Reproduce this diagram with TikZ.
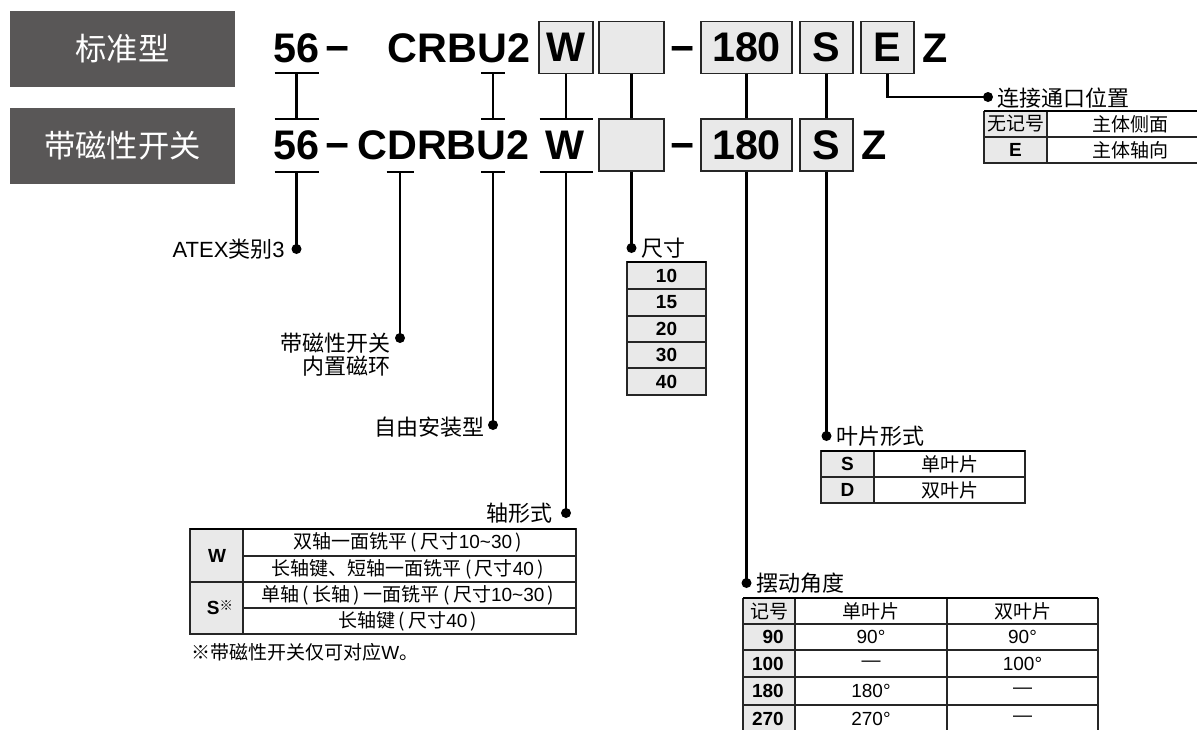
\documentclass[tikz,border=0pt]{standalone}
\usepackage{fontspec}
\setmainfont{Noto Sans CJK SC}
\newfontfamily\lib{Liberation Sans}
\definecolor{dbox}{RGB}{89,87,87}
\definecolor{cgray}{RGB}{233,233,233}
\newcommand{\lpar}{\kern0.18em(\kern0.18em}
\newcommand{\rpar}{\kern0.18em)\kern0.18em}
\begin{document}
\begin{tikzpicture}[x=0.75pt,y=-0.75pt,
  conn/.style={line width=1.8pt, black},
  dotnode/.style={circle, fill=black, inner sep=0pt, minimum size=7.5pt},
  tagbox/.style={fill=dbox, text=white, inner sep=0pt, minimum width=168.75pt, minimum height=57pt, font=\fontsize{23.5}{26}\selectfont},
  code/.style={font=\lib\bfseries\fontsize{31}{34}\selectfont, inner sep=0pt},
  codebox/.style={code, draw=black!85, line width=1.1pt, fill=cgray, minimum height=39pt},
  lbl/.style={font=\fontsize{16.5}{19}\selectfont, inner sep=0pt},
  tb/.style={font=\fontsize{14.25}{16}\selectfont, inner sep=0pt},
  tbb/.style={font=\lib\bfseries\fontsize{14.25}{16}\selectfont, inner sep=0pt},
  tl/.style={font=\lib\fontsize{14.25}{16}\selectfont, inner sep=0pt},
  tline/.style={line width=0.8pt, black!85},
  topline/.style={line width=1.9pt, black},
]
\useasboundingbox (0,0) rectangle (1197,729);

% type tags
\node[tagbox] (std) at (122.5,49) {标准型};
\node[tagbox] (mag) at (122.5,146) {带磁性开关};

% row 1
\node[code,anchor=base] (a56) at (296.5,62) {56};
\node[code,anchor=base] (adash) at (337.5,62) {−};
\node[code,anchor=base] (acr) at (459,62) {CRBU2};
\node[codebox,minimum width=40.5pt] (aW) at (566,47.5) {W};
\node[codebox,minimum width=48.75pt] (aSz) at (631.5,47.5) {};
\node[code,anchor=base] (adash2) at (683,62) {−};
\node[codebox,minimum width=68.25pt] (aAng) at (746.5,47.5) {180};
\node[codebox,minimum width=39.75pt] (aS) at (826.5,47.5) {S};
\node[codebox,minimum width=39.75pt] (aE) at (887.5,47.5) {E};
\node[code,anchor=base] (aZ) at (935,62) {Z};

% row 2
\node[code,anchor=base] (b56) at (296.5,159) {56};
\node[code,anchor=base] (bdash) at (337.5,159) {−};
\node[code,anchor=base] (bcr) at (443.5,159) {CDRBU2};
\node[code,anchor=base] (bW) at (565,159) {W};
\node[codebox,minimum width=48.75pt] (bSz) at (631.5,145) {};
\node[code,anchor=base] (bdash2) at (683,159) {−};
\node[codebox,minimum width=68.25pt] (bAng) at (746.5,145) {180};
\node[codebox,minimum width=39.75pt] (bS) at (826.5,145) {S};
\node[code,anchor=base] (bZ) at (874.5,159) {Z};

% bar coordinates
\coordinate (p56t) at (296.5,73);
\coordinate (p56m) at (296.5,119);
\coordinate (p56b) at (296.5,172);
\coordinate (pDb) at (400,172);
\coordinate (pUt) at (493,73);
\coordinate (pUm) at (493,119);
\coordinate (pUb) at (493,172);
\coordinate (pWm) at (566,119);
\coordinate (pWb) at (566,172);

\draw[conn] (p56t) ++(-22,0) -- ++(44,0);
\draw[conn] (p56m) ++(-22,0) -- ++(44,0);
\draw[conn] (p56b) ++(-22,0) -- ++(44,0);
\draw[conn] (pDb) ++(-13.5,0) -- ++(27,0);
\draw[conn] (pUt) ++(-12,0) -- ++(24,0);
\draw[conn] (pUm) ++(-12,0) -- ++(24,0);
\draw[conn] (pUb) ++(-12,0) -- ++(24,0);
\draw[conn] (pWm) ++(-26.5,0) -- ++(53,0);
\draw[conn] (pWb) ++(-26.5,0) -- ++(53,0);

\draw[conn] (p56t) -- (p56m);
\draw[conn] (pUt) -- (pUm);
\draw[conn] (aW.south) -- (pWm);
\draw[conn] (aSz.south) -- (bSz.north);
\draw[conn] (aAng.south) -- (bAng.north);
\draw[conn] (aS.south) -- (bS.north);

% dots
\node[dotnode] (dAtex) at (296.5,249) {};
\node[dotnode] (dMag) at (400,338) {};
\node[dotnode] (dFree) at (493,425) {};
\node[dotnode] (dShaft) at (566,513) {};
\node[dotnode] (dSize) at (631.5,248) {};
\node[dotnode] (dAng) at (746.5,583) {};
\node[dotnode] (dVane) at (826.5,436) {};
\node[dotnode] (dPort) at (988,97) {};

\draw[conn] (p56b) -- (dAtex.center);
\draw[conn] (pDb) -- (dMag.center);
\draw[conn] (pUb) -- (dFree.center);
\draw[conn] (pWb) -- (dShaft.center);
\draw[conn] (bSz.south) -- (dSize.center);
\draw[conn] (bAng.south) -- (dAng.center);
\draw[conn] (bS.south) -- (dVane.center);
\draw[conn] (aE.south) |- (dPort.center);

% labels
\node[lbl,anchor=east] (lAtex) at (285,249) {{\lib ATEX}类别{\lib 3}};
\node[lbl,anchor=east] (lMag1) at (391,343) {带磁性开关};
\node[lbl,anchor=east] (lMag2) at (391,366) {内置磁环};
\node[lbl,anchor=east] (lFree) at (485,427) {自由安装型};
\node[lbl,anchor=east] (lShaft) at (553,513) {轴形式};
\node[lbl,anchor=west] (lSize) at (641,248) {尺寸};
\node[lbl,anchor=west] (lVane) at (836,436) {叶片形式};
\node[lbl,anchor=west] (lAng) at (756,583) {摆动角度};
\node[lbl,anchor=west] (lPort) at (997,98) {连接通口位置};

% port table
\fill[cgray] (984,111) rectangle (1047,163);
\draw[tline] (984,111) -- (984,163) -- (1197,163);
\draw[tline] (1047,111) -- (1047,163);
\draw[tline] (984,137) -- (1197,137);
\draw[topline] (984,111) -- (1197,111);
\node[tb] (pc1) at (1015.5,124) {无记号};
\node[tbb] (pc2) at (1015.5,150) {E};
\node[tb] (pc3) at (1130,124) {主体侧面};
\node[tb] (pc4) at (1130,150) {主体轴向};

% size table
\fill[cgray] (627,262) rectangle (706,395);
\draw[tline] (627,262) rectangle (706,395);
\foreach \yy in {289,316,342,368} \draw[tline] (627,\yy) -- (706,\yy);
\draw[topline] (627,262) -- (706,262);
\node[tbb] (s10) at (666.5,275.5) {10};
\node[tbb] (s15) at (666.5,302.5) {15};
\node[tbb] (s20) at (666.5,329) {20};
\node[tbb] (s30) at (666.5,355) {30};
\node[tbb] (s40) at (666.5,381.5) {40};

% vane table
\fill[cgray] (821,451) rectangle (874,503);
\draw[tline] (821,451) rectangle (1025,503);
\draw[tline] (874,451) -- (874,503);
\draw[tline] (821,477) -- (1025,477);
\draw[topline] (821,451) -- (1025,451);
\node[tbb] (v1) at (847.5,464) {S};
\node[tbb] (v2) at (847.5,490) {D};
\node[tb] (v3) at (949.5,464) {单叶片};
\node[tb] (v4) at (949.5,490) {双叶片};

% shaft table
\fill[cgray] (190,529) rectangle (243,634);
\draw[tline] (190,529) rectangle (576,634);
\draw[tline] (243,529) -- (243,634);
\draw[tline] (243,556) -- (576,556);
\draw[tline] (190,582) -- (576,582);
\draw[tline] (243,608) -- (576,608);
\draw[topline] (190,529) -- (576,529);
\node[tbb] (sh1) at (217,555.5) {W};
\node[tb] (sh2) at (220,608) {{\lib\bfseries S}\raisebox{3pt}{\fontsize{10}{10}\selectfont ※}};
\node[tb] (sh3) at (409.5,542.5) {双轴一面铣平\lpar 尺寸{\lib 10\char`\~30}\rpar};
\node[tb] (sh4) at (409.5,569) {长轴键、短轴一面铣平\lpar 尺寸{\lib 40}\rpar};
\node[tb] (sh5) at (409.5,595) {单轴\lpar 长轴\rpar 一面铣平\lpar 尺寸{\lib 10\char`\~30}\rpar};
\node[tb] (sh6) at (409.5,621) {长轴键\lpar 尺寸{\lib 40}\rpar};
\node[tb,anchor=west] (note) at (191,652) {※带磁性开关仅可对应{\lib W}。};

% angle table
\fill[cgray] (743,598) rectangle (795,735);
\draw[tline] (743,598) -- (743,735);
\draw[tline] (795,598) -- (795,735);
\draw[tline] (947,598) -- (947,735);
\draw[tline] (1098,598) -- (1098,735);
\foreach \yy in {624,650,677,705} \draw[tline] (743,\yy) -- (1098,\yy);
\draw[topline] (743,598) -- (1098,598);
\node[tb] (h1) at (769,611) {记号};
\node[tb] (h2) at (871,611) {单叶片};
\node[tb] (h3) at (1022.5,611) {双叶片};
\node[tbb,anchor=east] (r1) at (784,637) {90};
\node[tbb,anchor=east] (r2) at (784,663.5) {100};
\node[tbb,anchor=east] (r3) at (784,691) {180};
\node[tbb,anchor=east] (r4) at (784,718.5) {270};
\node[tl] (c11) at (871,637) {90°};
\node[tl] (c12) at (1022.5,637) {90°};
\node[tl] (c21) at (871,663.5) {—};
\node[tl] (c22) at (1022.5,663.5) {100°};
\node[tl] (c31) at (871,691) {180°};
\node[tl] (c32) at (1022.5,691) {—};
\node[tl] (c41) at (871,718.5) {270°};
\node[tl] (c42) at (1022.5,718.5) {—};
\end{tikzpicture}
\end{document}
